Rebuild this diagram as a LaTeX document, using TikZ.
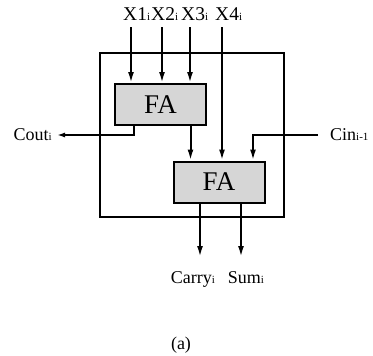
\documentclass[tikz,border=0pt]{standalone}
\usepackage{fontspec}
\setmainfont{Liberation Serif}
\usetikzlibrary{arrows.meta,positioning}
\definecolor{cInk}{HTML}{000000}
\definecolor{cShade}{HTML}{D6D6D6}
\newcommand{\ix}[1]{{\fontsize{11}{11}\selectfont #1}}
\tikzset{
  lbl/.style={font=\fontsize{18}{18}\selectfont, text=cInk, inner sep=0pt},
  inlbl/.style={lbl, font=\fontsize{19.5}{19.5}\selectfont, anchor=base west},
}
\begin{document}
\begin{tikzpicture}[
  x=1pt, y=-1pt,
  wire/.style={cInk, line width=2pt},
  sig/.style={wire, -{Latex[length=11pt,width=6pt]}},
  fa/.style={draw=cInk, line width=2pt, fill=cShade, inner sep=0pt,
    minimum width=91pt, minimum height=41pt, font=\fontsize{27}{27}\selectfont},
]
\useasboundingbox (0,0) rectangle (373,356);
% the frame round the cell
\draw[wire] (100,53) rectangle (284,217);
% the two full adders
\node[fa] (fa1) at (160.5,104.5) {FA};
\node[fa] (fa2) at (219,182) {FA};

% inputs on top
\node[inlbl] (x1) at (123,20) {X1\ix{i}};
\node[inlbl] (x2) at (151,20) {X2\ix{i}};
\node[inlbl] (x3) at (181,20) {X3\ix{i}};
\node[inlbl] (x4) at (215,20) {X4\ix{i}};
\coordinate (in1) at (131,27);
\coordinate (in2) at (162,27);
\coordinate (in3) at (190,27);
\coordinate (in4) at (222,27);
\foreach \i in {1,2,3} {\draw[sig] (in\i) -- (in\i |- fa1.north);}
\draw[sig] (in4) -- (in4 |- fa2.north);

% carry out of the first adder
\coordinate (cout) at (57,135);
\draw[wire, -{Latex[length=8pt,width=5pt]}] ([xshift=-27pt]fa1.south) |- (cout);
\node[lbl, anchor=east] (coutlbl) at ([xshift=-5pt]cout) {Cout\ix{i}};
% first adder into the second
\draw[sig] ([xshift=30pt]fa1.south) -- ([xshift=30pt]fa1.south |- fa2.north);
% carry in
\coordinate (cin) at (318,135);
\node[lbl, anchor=west] (cinlbl) at ([xshift=12pt]cin) {Cin\ix{i-1}};
\draw[sig] (cin) -| ([xshift=34pt]fa2.north);

% outputs
\coordinate (carry) at (200,257);
\coordinate (sum) at (241,257);
\draw[sig] (fa2.south -| carry) -- (carry);
\draw[sig] (fa2.south -| sum) -- (sum);
\node[lbl, anchor=base] (carrylbl) at (193,283) {Carry\ix{i}};
\node[lbl, anchor=base] (sumlbl) at (246,283) {Sum\ix{i}};

\node[lbl, anchor=base] (cap) at (181,349) {(a)};
\end{tikzpicture}
\end{document}
